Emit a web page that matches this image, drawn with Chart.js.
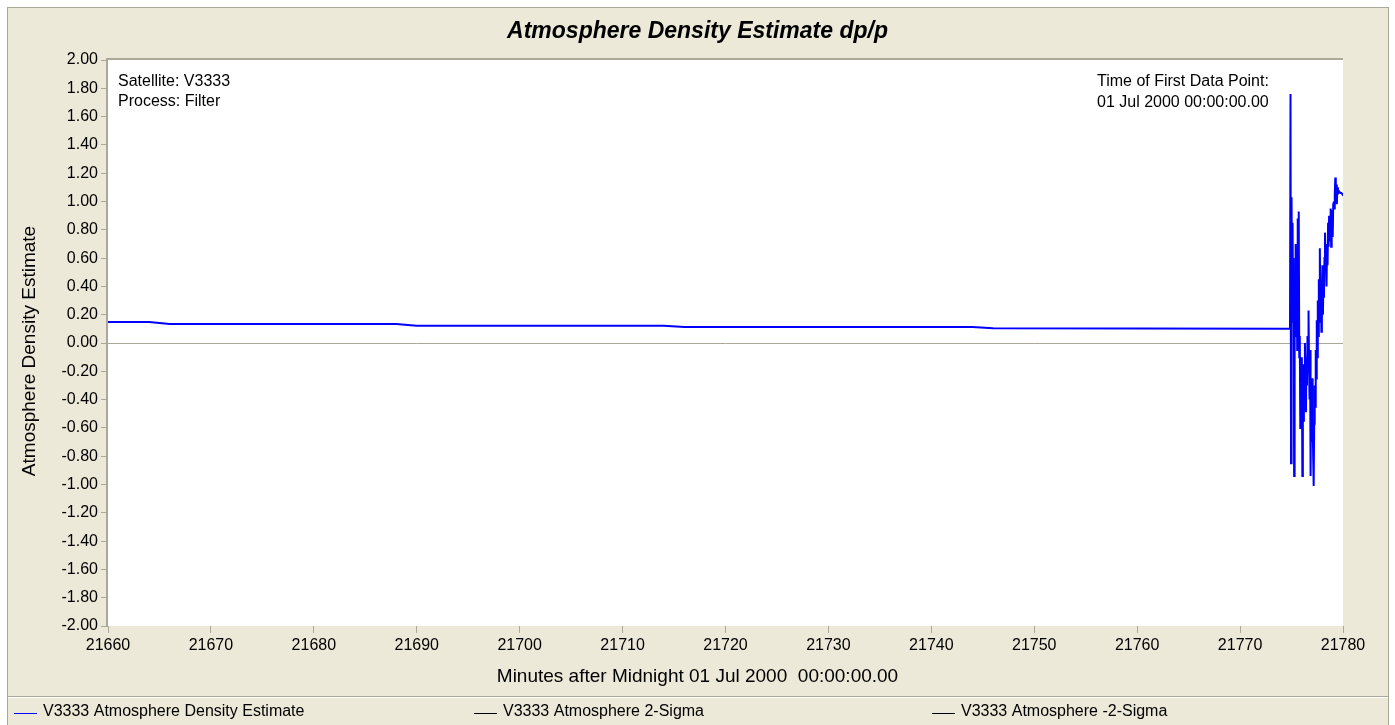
<!DOCTYPE html>
<html>
<head>
<meta charset="utf-8">
<title>Atmosphere Density Estimate dp/p</title>
<script src="https://cdn.jsdelivr.net/npm/chart.js@4.4.1/dist/chart.umd.min.js"></script>
<style>
  html, body { margin: 0; padding: 0; background: #ffffff; overflow: hidden; }
  #wrap { width: 1395px; height: 725px; position: relative; }
  canvas { display: block; }
</style>
</head>
<body>
<div id="wrap"><canvas id="chart" width="1395" height="725"></canvas></div>
<script>
// ---- chart text ----
const chartTitle = 'Atmosphere Density Estimate dp/p';
const xAxisTitle = 'Minutes after Midnight 01 Jul 2000  00:00:00.00';
const yAxisTitle = 'Atmosphere Density Estimate';
const infoLeft = ['Satellite: V3333', 'Process: Filter'];
const infoRight = ['Time of First Data Point:', '01 Jul 2000 00:00:00.00'];
const seriesNames = ['V3333 Atmosphere Density Estimate', 'V3333 Atmosphere 2-Sigma', 'V3333 Atmosphere -2-Sigma'];

// ---- axis ranges / ticks ----
const xRange = [21660, 21780];
const xStep = 10;
const yRange = [-2, 2];
const yStep = 0.2;

// ---- filter solution: minutes after midnight ----
const minutes = [
  21660.00, 21664.00, 21666.00, 21688.00, 21690.00, 21714.00, 21716.00, 21744.00, 21746.00,
  21774.85, 21774.90, 21774.95, 21775.00, 21775.05, 21775.10, 21775.15, 21775.20, 21775.25, 21775.30,
  21775.35, 21775.40, 21775.45, 21775.50, 21775.55, 21775.60, 21775.65, 21775.70, 21775.75, 21775.80,
  21775.85, 21775.90, 21775.95, 21776.00, 21776.05, 21776.10, 21776.15, 21776.20, 21776.25, 21776.30,
  21776.35, 21776.40, 21776.45, 21776.50, 21776.55, 21776.60, 21776.65, 21776.70, 21776.75, 21776.80,
  21776.85, 21776.90, 21776.95, 21777.00, 21777.05, 21777.10, 21777.15, 21777.20, 21777.25, 21777.30,
  21777.35, 21777.40, 21777.45, 21777.50, 21777.55, 21777.60, 21777.65, 21777.70, 21777.75, 21777.80,
  21777.85, 21777.90, 21777.95, 21778.00, 21778.05, 21778.10, 21778.15, 21778.20, 21778.25, 21778.30,
  21778.35, 21778.40, 21778.45, 21778.50, 21778.55, 21778.60, 21778.65, 21778.70, 21778.75, 21778.80,
  21778.85, 21778.90, 21778.95, 21779.00, 21779.05, 21779.10, 21779.15, 21779.20, 21779.25, 21779.30,
  21779.35, 21779.40, 21779.45, 21779.50, 21779.55,
  21779.65, 21779.75, 21779.85, 21779.95, 21780.00
];

// ---- filter solution: density estimate dp/p ----
const densityEstimate = [
  0.148, 0.148, 0.135, 0.135, 0.122, 0.122, 0.113, 0.113, 0.104,
  0.10, 1.76, -0.85, 1.03, 0.40, 0.85, 0.15, 0.60, -0.94, 0.45,
  0.05, 0.70, 0.20, 0.55, -0.05, 0.88, 0.30, 0.93, -0.10, 0.05,
  -0.60, -0.20, -0.45, -0.10, -0.94, -0.30, -0.55, -0.15, -0.35, 0.00,
  -0.25, -0.49, -0.10, -0.30, 0.05, -0.20, 0.23, -0.15, -0.40, -0.05,
  -0.94, -0.35, -0.70, -0.25, -0.55, -0.80, -1.01, -0.57, -0.30, -0.45,
  -0.05, -0.25, 0.16, -0.10, 0.30, 0.05, 0.45, 0.15, 0.67, 0.25,
  0.40, 0.08, 0.35, 0.55, 0.20, 0.45, 0.32, 0.60, 0.78, 0.50,
  0.65, 0.40, 0.70, 0.55, 0.85, 0.68, 0.90, 0.72, 0.80, 0.95,
  0.68, 0.88, 0.94, 0.75, 0.98, 1.00, 0.95, 1.05, 1.17, 1.00,
  1.12, 0.98, 1.08, 1.10, 1.06,
  1.07, 1.06, 1.06, 1.05, 1.06
];

// sigma bounds carry no points in this window
const sigmaPlus = [];
const sigmaMinus = [];

const FONT = '"Liberation Sans", Arial, Helvetica, sans-serif';
const BEIGE = '#ECE9D8';
const FRAME = '#ACA899';

function toPoints(xs, ys) {
  return ys.map((y, i) => ({ x: xs[i], y: y }));
}

// window frame, panel background and plot well
const framePlugin = {
  id: 'frame',
  beforeDraw(chart) {
    const { ctx, width, height, chartArea: a } = chart;
    ctx.save();
    ctx.fillStyle = '#ffffff';
    ctx.fillRect(0, 0, width, height);
    ctx.fillStyle = BEIGE;
    ctx.fillRect(8, 8, 1380, height - 8);
    ctx.fillStyle = FRAME;
    ctx.fillRect(7, 7, 1382, 1);
    ctx.fillRect(7, 7, 1, height - 7);
    ctx.fillRect(1388, 7, 1, height - 7);
    // legend separator
    ctx.fillRect(8, 696, 1380, 1);
    ctx.fillStyle = '#ffffff';
    ctx.fillRect(8, 697, 1380, 1);
    // plot well
    ctx.fillStyle = '#ffffff';
    ctx.fillRect(a.left, a.top, a.right - a.left, a.bottom - a.top);
    ctx.fillStyle = FRAME;
    ctx.fillRect(a.left - 2, a.top - 2, a.right - a.left + 2, 2);
    ctx.fillRect(a.left - 2, a.top - 2, 2, a.bottom - a.top + 2);
    ctx.restore();
  },
  afterDraw(chart) {
    const { ctx, width, chartArea: a } = chart;
    ctx.save();
    ctx.fillStyle = '#000000';
    // title
    ctx.font = 'italic bold 23px ' + FONT;
    ctx.textAlign = 'center';
    ctx.textBaseline = 'middle';
    ctx.fillText(chartTitle, width / 2, 32);
    // axis titles
    ctx.font = '19px ' + FONT;
    ctx.fillText(xAxisTitle, width / 2, 677);
    ctx.save();
    ctx.translate(30, 351);
    ctx.rotate(-Math.PI / 2);
    ctx.fillText(yAxisTitle, 0, 0);
    ctx.restore();
    // info blocks inside the plot
    ctx.font = '16px ' + FONT;
    ctx.textAlign = 'left';
    infoLeft.forEach((t, i) => ctx.fillText(t, a.left + 10, 82 + i * 20));
    infoRight.forEach((t, i) => ctx.fillText(t, 1097, 82 + i * 21));
    // legend row
    const slots = [14, 474, 932];
    chart.data.datasets.forEach((ds, i) => {
      const x0 = slots[i];
      ctx.strokeStyle = ds.borderColor;
      ctx.lineWidth = 1;
      ctx.beginPath();
      ctx.moveTo(x0, 713.5);
      ctx.lineTo(x0 + 23, 713.5);
      ctx.stroke();
      ctx.fillStyle = '#000000';
      ctx.fillText(ds.label, x0 + 29, 712);
    });
    ctx.restore();
  }
};

new Chart(document.getElementById('chart'), {
  type: 'line',
  data: {
    datasets: [
      {
        label: seriesNames[0],
        data: toPoints(minutes, densityEstimate),
        borderColor: '#0000FF',
        backgroundColor: '#0000FF',
        borderWidth: 2,
        pointRadius: 0,
        tension: 0,
        fill: false
      },
      {
        label: seriesNames[1],
        data: toPoints(minutes, sigmaPlus),
        borderColor: '#000000',
        borderWidth: 1,
        pointRadius: 0,
        fill: false
      },
      {
        label: seriesNames[2],
        data: toPoints(minutes, sigmaMinus),
        borderColor: '#000000',
        borderWidth: 1,
        pointRadius: 0,
        fill: false
      }
    ]
  },
  options: {
    responsive: false,
    animation: false,
    devicePixelRatio: 1,
    layout: { padding: { left: 0, top: 60, right: 52, bottom: 0 } },
    plugins: {
      legend: { display: false },
      title: { display: false },
      tooltip: { enabled: false }
    },
    scales: {
      x: {
        type: 'linear',
        min: xRange[0],
        max: xRange[1],
        afterFit(scale) { scale.height = 99; },
        ticks: {
          stepSize: xStep,
          color: '#000000',
          font: { family: FONT, size: 16 },
          padding: 3,
          maxRotation: 0,
          autoSkip: false,
          callback: v => String(v)
        },
        grid: {
          drawOnChartArea: false,
          drawTicks: true,
          tickLength: 7,
          tickColor: FRAME,
          color: FRAME
        },
        border: { display: false }
      },
      y: {
        type: 'linear',
        min: yRange[0],
        max: yRange[1],
        afterFit(scale) { scale.width = 108; },
        ticks: {
          stepSize: yStep,
          color: '#000000',
          font: { family: FONT, size: 16 },
          padding: 3,
          autoSkip: false,
          callback: v => (Math.abs(v) < 1e-9 ? 0 : v).toFixed(2)
        },
        grid: {
          drawTicks: true,
          tickLength: 7,
          tickColor: FRAME,
          lineWidth: 1,
          color: c => (c.tick && Math.abs(c.tick.value) < 1e-9 ? FRAME : 'rgba(0,0,0,0)')
        },
        border: { display: false }
      }
    }
  },
  plugins: [framePlugin]
});
</script>
</body>
</html>
